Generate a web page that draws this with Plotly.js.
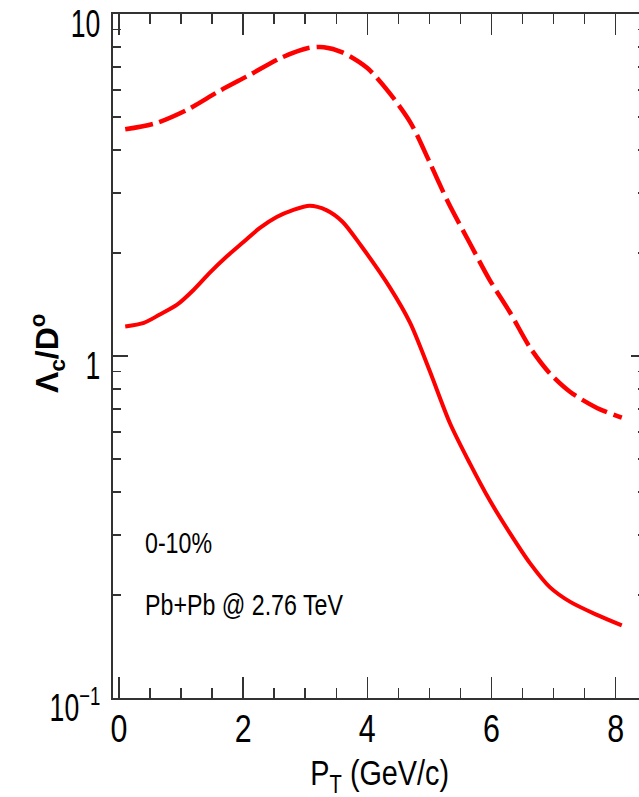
<!DOCTYPE html>
<html>
<head>
<meta charset="utf-8">
<script src="https://cdn.plot.ly/plotly-3.0.1.min.js"></script>
<style>
html,body{margin:0;padding:0;overflow:hidden;background:#fff;width:639px;height:797px;}
#chart{width:646px;height:797px;}
</style>
</head>
<body>
<div id="chart"></div>
<script>
// Dashed curve
const xDashed = [0.1, 0.6, 1.1, 1.6, 2.1, 2.6, 3.05, 3.3, 3.6, 4.0, 4.35, 4.7, 5.0, 5.3, 5.65, 5.97, 6.3, 6.62, 6.94, 7.27, 7.7, 8.1];
const yDashed = [4.6, 4.8, 5.25, 5.93, 6.63, 7.43, 7.95, 8.0, 7.72, 6.95, 5.9, 4.8, 3.7, 2.82, 2.14, 1.67, 1.34, 1.06, 0.89, 0.785, 0.705, 0.66];
// Solid curve
const xSolid = [0.1, 0.4, 0.65, 0.93, 1.2, 1.46, 1.73, 2.0, 2.27, 2.54, 2.8, 3.07, 3.34, 3.6, 3.9, 4.36, 4.69, 5.0, 5.33, 5.65, 5.97, 6.3, 6.62, 6.94, 7.27, 7.7, 8.1];
const ySolid = [1.22, 1.25, 1.32, 1.41, 1.56, 1.75, 1.95, 2.15, 2.37, 2.55, 2.67, 2.75, 2.67, 2.47, 2.1, 1.59, 1.25, 0.91, 0.637, 0.486, 0.379, 0.303, 0.248, 0.211, 0.191, 0.175, 0.163];
// Tick labels
const xTickVals = [0, 2, 4, 6, 8];
const xTickText = ["0", "2", "4", "6", "8"];
const yTickVals = [0.1, 1, 10];
const yTickText = ["10<sup>\u22121</sup>", "1", "10"];
const labels = ["0-10%", "Pb+Pb @ 2.76 TeV"];

const sans = "Liberation Sans, Arial, Helvetica, sans-serif";
const axisCol = "#333333";

const yMinor = [];
[0.1, 1].forEach(d => { for (let k = 2; k <= 9; k++) yMinor.push(d * k); });

const traces = [
  {x: xDashed, y: yDashed, mode: "lines", type: "scatter",
   line: {color: "#ff0000", width: 4.5, dash: "28px,7px", shape: "spline", smoothing: 0.8}},
  {x: xSolid, y: ySolid, mode: "lines", type: "scatter",
   line: {color: "#ff0000", width: 4, shape: "spline", smoothing: 0.8}}
];

const layout = {
  width: 646, height: 797,
  margin: {l: 113, r: 0, t: 14, b: 99},
  paper_bgcolor: "#fff", plot_bgcolor: "#fff",
  showlegend: false,
  xaxis: {
    range: [-0.097, 8.49],
    tickmode: "array", tickvals: xTickVals, ticktext: xTickText,
    ticks: "inside", ticklen: 21, tickwidth: 1.5, tickcolor: axisCol,
    minor: {dtick: 0.5, tick0: 0, ticks: "inside", ticklen: 10, tickwidth: 1.5, tickcolor: axisCol, showgrid: false},
    showline: true, linecolor: axisCol, linewidth: 2, mirror: "ticks",
    showgrid: false, zeroline: false,
    tickfont: {family: sans, size: 38, color: "#000"},
    ticklabelstandoff: -4
  },
  yaxis: {
    type: "log", range: [-1, 1],
    tickmode: "array", tickvals: yTickVals, ticktext: yTickText,
    ticks: "inside", ticklen: 15, tickwidth: 1.5, tickcolor: axisCol,
    minor: {tickmode: "array", tickvals: yMinor, ticks: "inside", ticklen: 8, tickwidth: 1.5, tickcolor: axisCol, showgrid: false},
    showline: true, linecolor: axisCol, linewidth: 2, mirror: "ticks",
    showgrid: false, zeroline: false,
    tickfont: {family: sans, size: 38, color: "#000"},
    ticklabelshift: 10, ticklabelstandoff: 3
  },
  annotations: [
    {xref: "paper", yref: "paper", x: 0.056, y: 0.2266, xanchor: "left", yanchor: "middle",
     text: labels[0], showarrow: false, font: {family: sans, size: 29, color: "#000"}},
    {xref: "paper", yref: "paper", x: 0.056, y: 0.136, xanchor: "left", yanchor: "middle",
     text: labels[1], showarrow: false, font: {family: sans, size: 29, color: "#000"}},
    {xref: "paper", yref: "paper", x: 0.5, y: 0, yshift: -77, xanchor: "center", yanchor: "middle",
     text: "P<sub>T</sub> (GeV/c)", showarrow: false, font: {family: sans, size: 36, color: "#000"}},
    {xref: "paper", yref: "paper", x: 0, xshift: -65, y: 0.503, xanchor: "center", yanchor: "middle",
     textangle: -90, text: "<b>\u039B<sub>c</sub>/D<sup>o</sup></b>", showarrow: false,
     font: {family: sans, size: 32, color: "#000"}}
  ]
};

// Condense horizontal text (reference uses a narrow Helvetica)
function squeeze(t, pivot, s) {
  const prev = t.getAttribute("transform") || "";
  t.setAttribute("transform", prev + " translate(" + pivot + ",0) scale(" + s + ",1) translate(" + (-pivot) + ",0)");
}
function condense(gd) {
  gd.querySelectorAll(".xtick text").forEach(t => squeeze(t, parseFloat(t.getAttribute("x") || "0"), 0.8));
  gd.querySelectorAll(".ytick text").forEach(t => squeeze(t, parseFloat(t.getAttribute("x") || "0"), 0.7));
  gd.querySelectorAll(".annotation text").forEach(t => {
    const txt = t.textContent;
    if (txt.indexOf("\u039B") >= 0) return;
    if (labels.indexOf(txt) >= 0) {
      squeeze(t, t.getBBox().x, 0.8);
    } else {
      squeeze(t, parseFloat(t.getAttribute("x") || "0"), 0.8);
    }
  });
}

Plotly.newPlot("chart", traces, layout, {displayModeBar: false, staticPlot: true})
  .then(gd => condense(gd));
</script>
</body>
</html>
